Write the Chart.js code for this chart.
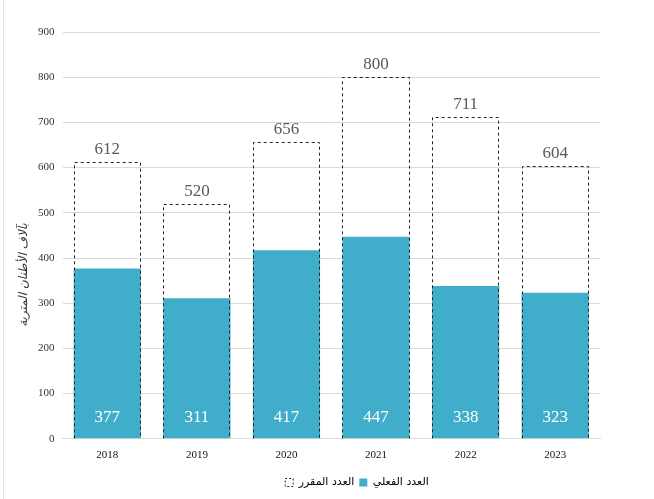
<!DOCTYPE html>
<html>
<head>
<meta charset="utf-8">
<script src="https://cdn.jsdelivr.net/npm/chart.js@4"></script>
<style>
    body { margin: 0; background: #fff; }
    #wrap { position: relative; height: 499px; border-left: 1px solid #e4e4e4; box-sizing: border-box; margin-left: 3px; width: 651px; }
</style>
</head>
<body>
<div id="wrap"><canvas id="myChart" width="650" height="499"></canvas></div>
<script>
const years = ['2018', '2019', '2020', '2021', '2022', '2023'];
const actualValues = [377, 311, 417, 447, 338, 323];
const plannedValues = [612, 520, 656, 800, 711, 604];
const yTicks = [0, 100, 200, 300, 400, 500, 600, 700, 800, 900];

const actualLabel = 'العدد الفعلي';
const plannedLabel = 'العدد المقرر';
const axisTitle = 'بآلاف الأطنان المترية';

const blue = '#40AECB';

// dashed outline for planned bars + value labels
const overlayPlugin = {
    id: 'overlay',
    afterLayout(chart) {
        // legend sits a bit right of centre in the original
        chart.legend.left += 84;
    },
    afterDatasetsDraw(chart) {
        const c = chart.ctx;
        const planned = chart.getDatasetMeta(1);
        const actual = chart.getDatasetMeta(0);
        c.save();
        c.strokeStyle = '#222';
        c.lineWidth = 1;
        c.setLineDash([3, 3]);
        planned.data.forEach(function (bar) {
            const half = bar.width / 2;
            c.beginPath();
            c.moveTo(Math.round(bar.x - half) + 0.5, bar.base);
            c.lineTo(Math.round(bar.x - half) + 0.5, Math.round(bar.y) + 0.5);
            c.lineTo(Math.round(bar.x + half) - 0.5, Math.round(bar.y) + 0.5);
            c.lineTo(Math.round(bar.x + half) - 0.5, bar.base);
            c.stroke();
        });
        c.setLineDash([]);
        c.font = '17px "Liberation Serif", serif';
        c.textAlign = 'center';
        c.textBaseline = 'bottom';
        c.fillStyle = '#595959';
        planned.data.forEach(function (bar, i) {
            c.fillText(plannedValues[i], bar.x, bar.y - 4);
        });
        c.fillStyle = '#ffffff';
        c.textBaseline = 'middle';
        actual.data.forEach(function (bar, i) {
            c.fillText(actualValues[i], bar.x, bar.base - 21);
        });
        // y axis title
        c.translate(20, 275);
        c.rotate(-Math.PI / 2);
        c.fillStyle = '#333';
        c.font = 'italic 12px "DejaVu Sans", sans-serif';
        c.textBaseline = 'middle';
        c.fillText(axisTitle, 0, 0);
        c.restore();
    }
};

const ctx = document.getElementById('myChart');

let cfg = {
    type: 'bar',
    data: {
        labels: years,
        datasets: [{
            label: actualLabel,
            data: actualValues,
            backgroundColor: blue,
            borderWidth: 0,
            grouped: false,
            order: 2
        }, {
            label: plannedLabel,
            data: plannedValues,
            backgroundColor: 'rgba(0,0,0,0)',
            borderWidth: 0,
            grouped: false,
            order: 1
        }]
    },
    options: {
        responsive: false,
        animation: false,
        devicePixelRatio: 1,
        layout: {
            padding: { left: 26, right: 54, top: 32, bottom: 1 }
        },
        datasets: {
            bar: { categoryPercentage: 1, barPercentage: 0.75 }
        },
        plugins: {
            tooltip: { enabled: false },
            legend: {
                position: 'bottom',
                labels: {
                    boxWidth: 8,
                    boxHeight: 8,
                    padding: 5,
                    color: '#222',
                    font: { family: '"DejaVu Sans", sans-serif', size: 11 },
                    generateLabels: function () {
                        return [{
                            text: plannedLabel,
                            fillStyle: 'rgba(0,0,0,0)',
                            strokeStyle: '#222',
                            lineWidth: 1,
                            lineDash: [2, 2],
                            datasetIndex: 1
                        }, {
                            text: actualLabel,
                            fillStyle: blue,
                            strokeStyle: blue,
                            lineWidth: 0,
                            datasetIndex: 0
                        }];
                    }
                }
            }
        },
        scales: {
            x: {
                grid: { display: false, drawTicks: false },
                border: { color: '#d9d9d9' },
                ticks: {
                    color: '#111',
                    padding: 10,
                    font: { family: '"Liberation Serif", serif', size: 11 }
                }
            },
            y: {
                min: 0,
                max: 900,
                afterBuildTicks: function (axis) {
                    axis.ticks = yTicks.map(function (v) { return { value: v }; });
                },
                grid: { color: '#d9d9d9', drawTicks: false },
                border: { display: false },
                ticks: {
                    color: '#333',
                    padding: 8,
                    font: { family: '"Liberation Serif", serif', size: 11 }
                }
            }
        }
    },
    plugins: [overlayPlugin]
};

let myChart = new Chart(ctx, cfg);
</script>
</body>
</html>
